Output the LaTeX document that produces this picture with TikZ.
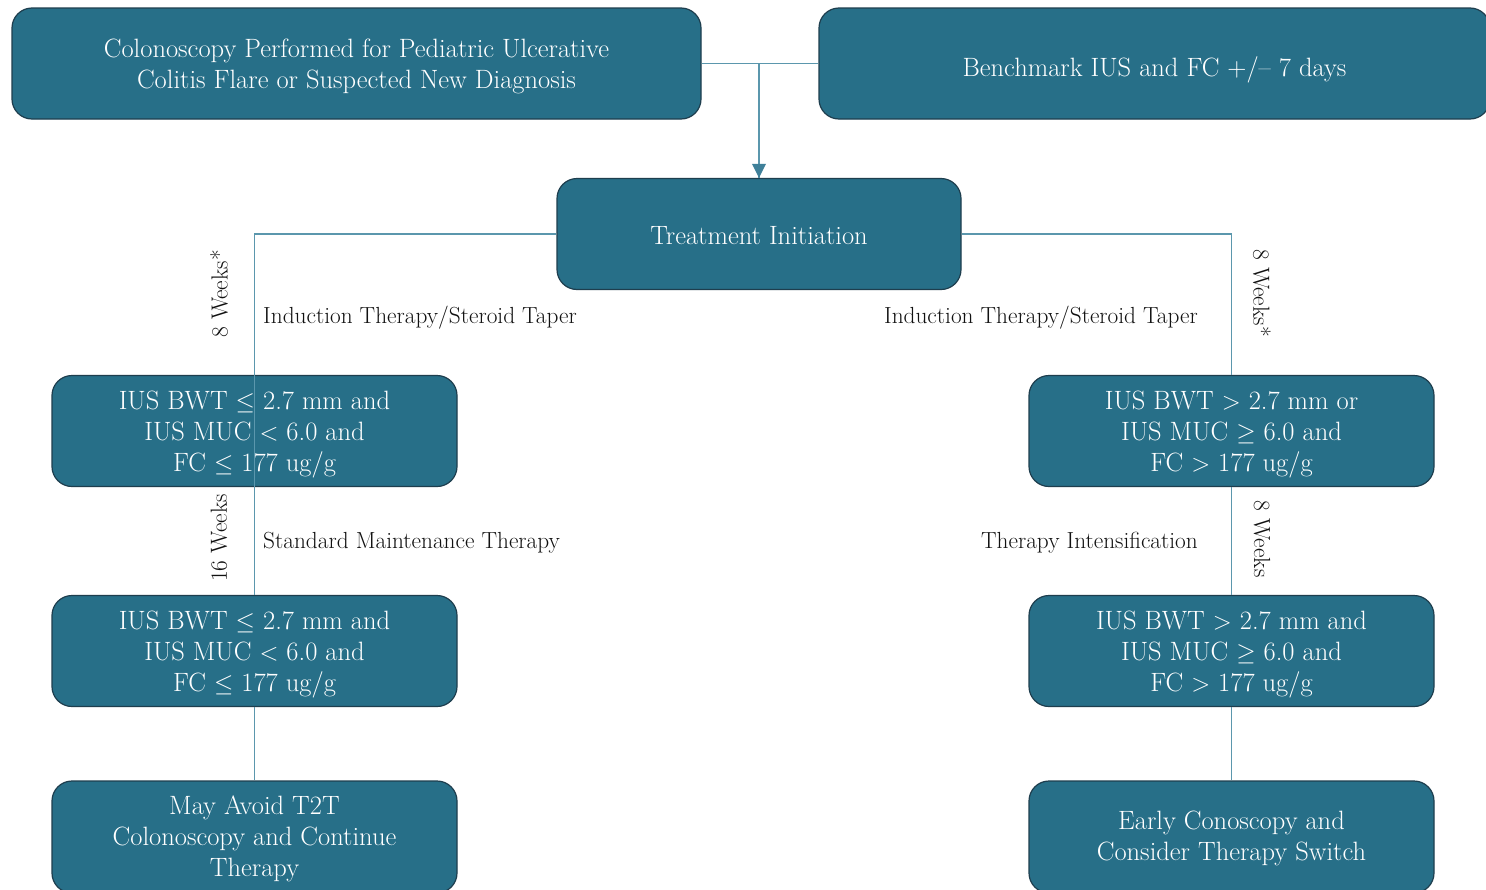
\documentclass[tikz,border=0pt]{standalone}
\usetikzlibrary{arrows.meta}
\definecolor{boxfill}{HTML}{276F88}
\definecolor{boxedge}{HTML}{1E3E4E}
\definecolor{connc}{HTML}{5B97AD}
\definecolor{arrowc}{HTML}{3F8099}
\definecolor{lbl}{HTML}{111111}
\newcommand\bt[2][3pt]{\raisebox{0pt}[\dimexpr\height+2\dimexpr#1\relax\relax][\depth]{\begin{tabular}{@{}c@{}}#2\end{tabular}}}
\begin{document}
\begin{tikzpicture}[x=1pt,y=-1pt,
  box/.style={draw=boxedge, line width=1.2pt, fill=boxfill, rounded corners=20pt,
    text=white, font=\fontsize{26.5}{31}\selectfont, inner sep=0pt,
    minimum height=111pt},
  conn/.style={draw=connc, line width=1.4pt},
  lab/.style={text=lbl, font=\fontsize{23.3}{26}\selectfont, inner sep=0pt}]
\useasboundingbox (0,0) rectangle (1486,889);
\clip (0,0) rectangle (1486,889);
\fill[white] (0,0) rectangle (1486,889);

\node[box, minimum width=689pt] (a) at (356.5,63.5) {\bt{Colonoscopy Performed for Pediatric Ulcerative\\Colitis Flare or Suspected New Diagnosis}};
\node[box, minimum width=671pt] (b) at (1154.5,63.5) {\bt[7pt]{Benchmark IUS and FC +/-- 7 days}};
\node[box, minimum width=404pt] (t) at (759,234) {\bt[4pt]{Treatment Initiation}};

\node[box, minimum width=405pt] (l1) at (254.5,431) {\bt{IUS BWT $\le$ 2.7 mm and\\IUS MUC $<$ 6.0 and\\FC $\le$ 177 ug/g}};
\node[box, minimum width=405pt] (l2) at (254.5,651) {\bt{IUS BWT $\le$ 2.7 mm and\\IUS MUC $<$ 6.0 and\\FC $\le$ 177 ug/g}};
\node[box, minimum width=405pt, minimum height=112pt] (l3) at (254.5,837) {\bt[2pt]{May Avoid T2T\\Colonoscopy and Continue\\Therapy}};

\node[box, minimum width=405pt] (r1) at (1231.5,431) {\bt{IUS BWT $>$ 2.7 mm or\\IUS MUC $\ge$ 6.0 and\\FC $>$ 177 ug/g}};
\node[box, minimum width=405pt] (r2) at (1231.5,651) {\bt{IUS BWT $>$ 2.7 mm and\\IUS MUC $\ge$ 6.0 and\\FC $>$ 177 ug/g}};
\node[box, minimum width=405pt, minimum height=112pt] (r3) at (1231.5,837) {\bt[2pt]{Early Conoscopy and\\Consider Therapy Switch}};

\draw[conn] (a.east) -- (b.west);
\draw[conn] (a.east -| t.north) -- (t.north);
\draw[draw=none, fill=arrowc] (t.north) -- ++(-7,-14) -- ++(14,0) -- cycle;

\draw[conn] (t.west) -| (l2.north);
\draw[conn] (l2.south) -- (l3.north);
\draw[conn] (t.east) -| (r1.north);
\draw[conn] (r1.south) -- (r2.north);
\draw[conn] (r2.south) -- (r3.north);

\node[lab, rotate=90] (w1) at (219,294) {8 Weeks*};
\node[lab, rotate=90] (w2) at (219,538) {16 Weeks};
\node[lab, rotate=-90] (w3) at (1262,293) {8 Weeks*};
\node[lab, rotate=-90] (w4) at (1262,539) {8 Weeks};

\node[lab, anchor=base west] (i1) at (263,323) {Induction Therapy/Steroid Taper};
\node[lab, anchor=base east] (i2) at (1198,323) {Induction Therapy/Steroid Taper};
\node[lab, anchor=base west] (s1) at (263,548) {Standard Maintenance Therapy};
\node[lab, anchor=base east] (s2) at (1198,548) {Therapy Intensification};
\end{tikzpicture}
\end{document}
